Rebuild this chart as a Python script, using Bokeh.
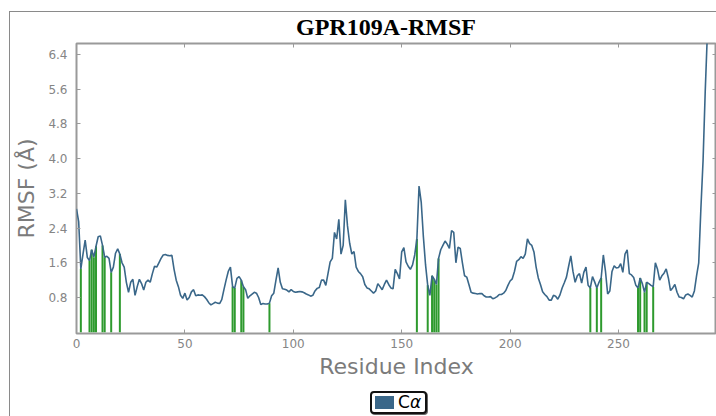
from bokeh.plotting import figure
from bokeh.layouts import column
from bokeh.models import (Range1d, FixedTicker, LinearAxis, ColumnDataSource,
                          PrintfTickFormatter, Div)
from bokeh.embed import file_html
from bokeh.resources import INLINE

# ---------------- data ----------------
rmsf = [
    2.84, 2.55, 1.46, 1.80, 2.12, 1.72, 1.65, 1.90, 1.73, 1.98,   # 0-9
    2.20, 2.22, 2.00, 1.73, 1.75, 1.70, 1.38, 1.50, 1.82, 1.92,   # 10-19
    1.80, 1.60, 1.50, 1.15, 0.92, 1.15, 1.22, 0.85, 1.05, 1.22,   # 20-29
    1.12, 0.97, 1.15, 1.20, 1.15, 1.35, 1.52, 1.50, 1.60, 1.70,   # 30-39
    1.78, 1.79, 1.77, 1.76, 1.77, 1.45, 1.20, 1.05, 0.85, 0.78,   # 40-49
    0.90, 0.74, 0.80, 0.93, 0.98, 0.84, 0.86, 0.85, 0.86, 0.82,   # 50-59
    0.76, 0.68, 0.63, 0.66, 0.69, 0.67, 0.66, 0.75, 0.98, 1.20,   # 60-69
    1.40, 1.50, 1.05, 1.02, 1.24, 1.28, 1.20, 1.05, 0.98, 0.78,   # 70-79
    0.84, 0.88, 0.92, 0.90, 0.80, 0.64, 0.66, 0.65, 0.65, 0.67,   # 80-89
    0.84, 0.90, 1.20, 1.48, 1.15, 1.00, 0.99, 0.97, 0.93, 0.98,   # 90-99
    0.94, 0.92, 0.93, 0.94, 0.93, 0.91, 0.88, 0.86, 0.83, 0.85,   # 100-109
    0.95, 1.01, 1.03, 1.20, 1.20, 1.08, 1.35, 1.62, 1.70, 2.30,   # 110-119
    2.15, 2.60, 1.80, 2.00, 3.05, 2.45, 2.05, 1.80, 1.86, 1.50,   # 120-129
    1.40, 1.35, 1.28, 1.10, 1.02, 1.00, 0.95, 0.90, 0.95, 1.12,   # 130-139
    1.05, 0.98, 1.10, 1.20, 1.10, 1.02, 1.00, 1.45, 1.35, 1.23,   # 140-149
    1.85, 1.95, 1.62, 1.52, 1.45, 1.55, 1.78, 2.15, 3.37, 3.00,   # 150-159
    2.20, 1.55, 1.08, 0.85, 1.30, 1.22, 1.10, 1.70, 1.90, 2.00,   # 160-169
    2.10, 2.03, 1.93, 2.34, 2.30, 1.60, 1.96, 1.93, 1.60, 1.30,   # 170-179
    1.27, 1.10, 0.92, 0.90, 0.89, 0.88, 0.89, 0.89, 0.84, 0.81,   # 180-189
    0.81, 0.82, 0.77, 0.79, 0.82, 0.87, 0.87, 0.90, 0.96, 1.08,   # 190-199
    1.18, 1.23, 1.40, 1.63, 1.67, 1.74, 1.70, 1.80, 2.15, 2.04,   # 200-209
    2.00, 1.85, 1.50, 1.25, 1.10, 0.93, 0.87, 0.82, 0.74, 0.74,   # 210-219
    0.85, 0.83, 0.76, 0.86, 1.02, 1.14, 1.27, 1.52, 1.76, 1.40,   # 220-229
    1.15, 1.30, 1.35, 1.13, 1.38, 1.50, 1.08, 1.02, 1.28, 1.16,   # 230-239
    1.02, 1.15, 1.25, 1.78, 1.40, 0.88, 0.95, 1.40, 1.53, 1.48,   # 240-249
    1.49, 1.58, 1.38, 1.80, 1.90, 1.35, 1.32, 1.26, 1.08, 1.02,   # 250-259
    1.25, 1.12, 0.92, 1.15, 1.12, 1.08, 1.05, 1.60, 1.45, 1.20,   # 260-269
    1.30, 1.36, 1.46, 1.25, 0.96, 1.02, 1.10, 0.92, 0.81, 0.80,   # 270-279
    0.77, 0.86, 0.88, 0.85, 0.81, 0.95, 1.30, 1.60, 2.85, 3.95,   # 280-289
    5.55, 6.90,                                                   # 290-291
]
residues = list(range(len(rmsf)))

contact_residues = [2, 6, 7, 8, 9, 12, 13, 16, 20, 72, 73, 76, 77, 89,
                    157, 162, 164, 165, 166, 167, 237, 240, 242,
                    259, 260, 262, 263, 266]
contact_rmsf = [rmsf[i] for i in contact_residues]

x_ticks = [0, 50, 100, 150, 200, 250]
y_ticks = [0.8, 1.6, 2.4, 3.2, 4.0, 4.8, 5.6, 6.4]

title_text = "GPR109A-RMSF"
x_label = "Residue Index"
y_label = "RMSF (Å)"
legend_main, legend_greek = "C", "α"

# ---------------- styling ----------------
LINE_COLOR = "#3a6789"
GREEN = "#2e9a2e"
FRAME_GRAY = "#9a9a9a"
TICK_GRAY = "#858585"
LABEL_GRAY = "#7b7b7b"
SANS = "DejaVu Sans"

# title as an HTML block above the plot
title_div = Div(
    text=('<div style="position:absolute; left:286px; top:1px; '
          "font-family:'Liberation Serif'; font-weight:bold; font-size:24px; "
          'line-height:28px; color:#000; white-space:nowrap;">'
          f'{title_text}</div>'),
    width=706, height=26, margin=(0, 0, 0, 0), styles={"position": "relative"},
)

p = figure(
    width=706, height=352,
    output_backend="svg", toolbar_location=None,
    x_range=Range1d(0, 295.2), y_range=Range1d(-0.03, 6.654),
    min_border_left=66, min_border_right=0, min_border_top=5, min_border_bottom=57,
    margin=(0, 0, 0, 0),
    x_axis_type=None, y_axis_type=None,
)
p.grid.visible = False
p.outline_line_color = FRAME_GRAY
p.outline_line_width = 2
p.background_fill_color = "white"
p.border_fill_color = "white"

def style_axis(ax, show_labels):
    ax.axis_line_color = None
    ax.major_tick_in = 4
    ax.major_tick_out = 0
    ax.minor_tick_line_color = None
    ax.major_tick_line_color = FRAME_GRAY
    ax.major_tick_line_width = 1
    if show_labels:
        ax.major_label_text_font = SANS
        ax.major_label_text_font_size = "12px"
        ax.major_label_text_color = TICK_GRAY
    else:
        ax.major_label_text_font_size = "1px"
        ax.major_label_text_color = None
        ax.major_label_standoff = 0

xb = LinearAxis(ticker=FixedTicker(ticks=x_ticks))
style_axis(xb, True)
xb.major_label_standoff = 5
xb.axis_label = x_label
xb.axis_label_text_font = SANS
xb.axis_label_text_font_size = "22px"
xb.axis_label_text_font_style = "normal"
xb.axis_label_text_color = LABEL_GRAY
xb.axis_label_standoff = 3
p.add_layout(xb, "below")

yl = LinearAxis(ticker=FixedTicker(ticks=y_ticks),
                formatter=PrintfTickFormatter(format="%.1f"))
style_axis(yl, True)
yl.major_label_standoff = 9
yl.axis_label = y_label
yl.axis_label_text_font = SANS
yl.axis_label_text_font_size = "22px"
yl.axis_label_text_font_style = "normal"
yl.axis_label_text_color = LABEL_GRAY
yl.axis_label_standoff = 6
p.add_layout(yl, "left")

xt = LinearAxis(ticker=FixedTicker(ticks=x_ticks))
style_axis(xt, False)
p.add_layout(xt, "above")

yr = LinearAxis(ticker=FixedTicker(ticks=y_ticks))
style_axis(yr, False)
p.add_layout(yr, "right")

# contact residue bars
seg_src = ColumnDataSource(dict(x=contact_residues, y0=[0] * len(contact_residues),
                                y1=contact_rmsf))
p.segment(x0="x", y0="y0", x1="x", y1="y1", source=seg_src,
          line_color=GREEN, line_width=2)

# RMSF curve
src = ColumnDataSource(dict(x=residues, y=rmsf))
p.line("x", "y", source=src, line_color=LINE_COLOR, line_width=1.6)

# legend (HTML box below the axes, as in the reference)
legend_html = (
    '<div style="position:absolute; left:360px; top:1px; height:23px; box-sizing:border-box; '
    'padding:0 4px 0 3px; border:2px solid #111; border-radius:4px; '
    'box-shadow:1px 1px 0 #666; background:#fff; display:flex; align-items:center; '
    f'font-family:\'{SANS}\'; font-size:17px; color:#000; white-space:nowrap;">'
    f'<span style="display:inline-block; width:19px; height:13px; background:{LINE_COLOR}; '
    'margin-right:4px;"></span>'
    f'{legend_main}<i>{legend_greek}</i></div>'
)
legend_div = Div(text=legend_html, width=706, height=26, margin=(0, 0, 0, 0),
                 styles={"position": "relative"})

layout = column(title_div, p, legend_div, margin=(11, 0, 0, 9), spacing=0,
                styles={"border-left": "1px solid #8a8a8a",
                        "border-top": "1px solid #8a8a8a",
                        "background": "white"})

open("out.html", "w").write(file_html(layout, INLINE))
